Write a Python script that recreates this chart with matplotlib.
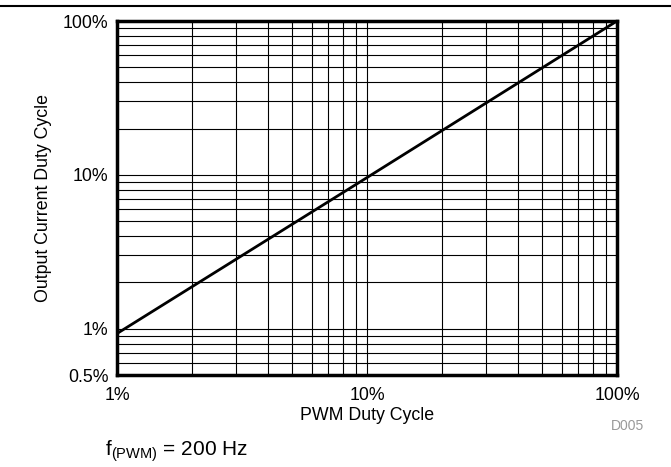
import matplotlib
matplotlib.use('Agg')
import matplotlib.pyplot as plt
from matplotlib.ticker import FixedLocator, NullFormatter

plt.rcParams['font.family'] = ['Liberation Sans', 'DejaVu Sans']
plt.rcParams['mathtext.fontset'] = 'custom'
plt.rcParams['mathtext.rm'] = 'Liberation Sans'

# Data (percent values)
pwm_duty = [1, 10, 100]
out_duty = [0.93, 9.6, 100]

x_ticks = [1, 10, 100]
x_tick_labels = ['1%', '10%', '100%']
y_ticks = [0.5, 1, 10, 100]
y_tick_labels = ['0.5%', '1%', '10%', '100%']

fig = plt.figure(figsize=(6.71, 4.67), dpi=100)
ax = fig.add_axes([117/671, 1 - 375/467, 500/671, 354/467])

ax.plot(pwm_duty, out_duty, color='black', lw=2, zorder=3)
ax.set_xscale('log')
ax.set_yscale('log')
ax.set_xlim(1, 100)
ax.set_ylim(0.5, 100)

ax.xaxis.set_major_locator(FixedLocator(x_ticks))
ax.set_xticklabels(x_tick_labels)
ax.yaxis.set_major_locator(FixedLocator(y_ticks))
ax.set_yticklabels(y_tick_labels)
minor = [m * d for d in (0.1, 1, 10) for m in range(2, 10)]
ax.xaxis.set_minor_locator(FixedLocator([v for v in minor if 1 < v < 100]))
ax.yaxis.set_minor_locator(FixedLocator([v for v in minor if 0.5 < v < 100]))
ax.xaxis.set_minor_formatter(NullFormatter())
ax.yaxis.set_minor_formatter(NullFormatter())
ax.grid(True, which='both', color='black', lw=0.8)
ax.tick_params(which='both', length=0, labelsize=12.8, colors='black')
ax.tick_params(axis='x', pad=9)
ax.tick_params(axis='y', pad=6)

for s in ax.spines.values():
    s.set_linewidth(2.5)

ax.set_xlabel('PWM Duty Cycle', fontsize=12.8, labelpad=2)
ax.set_ylabel('Output Current Duty Cycle', fontsize=12.8, labelpad=8)

fig.text(628/671, 1 - 426/467, 'D005', color='#999999', fontsize=10, ha='center', va='center')
fig.text(105/671, 1 - 451/467, r'f$_{\mathregular{(PWM)}}$ = 200 Hz', fontsize=15, ha='left', va='center')
fig.add_artist(plt.Line2D([0, 1], [1 - 6/467, 1 - 6/467], color='black', lw=1.5, transform=fig.transFigure))

fig.savefig('out.png', dpi=100)
